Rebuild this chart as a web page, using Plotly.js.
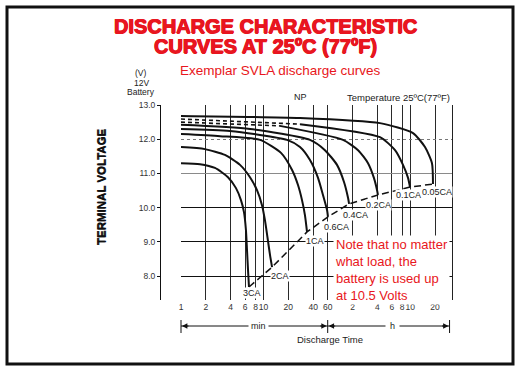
<!DOCTYPE html>
<html>
<head>
<meta charset="utf-8">
<script src="https://cdn.plot.ly/plotly-3.0.1.min.js"></script>
<style>html,body{margin:0;padding:0;background:#fff;}#chart{width:519px;height:372px;}</style>
</head>
<body>
<div id="chart"></div>
<script>
// ---------------- DATA ----------------
const minuteTicks = [1, 2, 4, 6, 8, 10, 20, 40, 60, 120, 240, 360, 480, 600, 1200];
const minuteTickText = ['1', '2', '4', '6', '8', '10', '20', '40', '60', '2', '4', '6', '8', '10', '20'];
const voltTicks = [8, 9, 10, 11, 12, 13];

const rateLabels = ['3CA', '2CA', '1CA', '0.6CA', '0.4CA', '0.2CA', '0.1CA', '0.05CA'];

const t_3CA = [1, 1.7, 2.58, 3.71, 4.64, 5.33, 5.8, 6.13, 6.31, 6.49, 6.67];
const v_3CA = [11.30, 11.27, 11.16, 10.89, 10.57, 10.22, 9.87, 9.34, 8.76, 8.18, 7.68];
const t_2CA = [1, 1.95, 3.41, 5.19, 6.86, 8.34, 9.57, 10.4, 11.3, 12.0, 12.7];
const v_2CA = [11.77, 11.71, 11.54, 11.25, 10.89, 10.51, 10.08, 9.64, 9.05, 8.61, 8.26];
const t_1CA = [1, 2.97, 9.07, 16.3, 22.2, 26.2, 29.3, 31.8, 33.7];
const v_1CA = [12.15, 12.09, 11.98, 11.60, 11.10, 10.66, 10.22, 9.78, 9.29];
const t_06CA = [1, 3.93, 19.3, 27.7, 36.6, 45.8, 52.6, 58.9, 60.5];
const v_06CA = [12.30, 12.24, 11.98, 11.77, 11.39, 10.87, 10.37, 9.93, 9.73];
const t_04CA = [1, 6.86, 36.6, 55.6, 77.8, 94.6, 106, 109];
const v_04CA = [12.42, 12.30, 11.98, 11.68, 11.25, 10.75, 10.28, 10.11];
const t_02CA = [1, 15.8, 92, 140, 185, 218, 238, 244];
const v_02CA = [12.50, 12.39, 11.98, 11.68, 11.30, 10.87, 10.51, 10.37];
const t_01CA = [1, 27.7, 258, 393, 491, 565, 597];
const v_01CA = [12.59, 12.44, 12.06, 11.68, 11.25, 10.87, 10.60];
const t_005CA = [1, 27.7, 258, 649, 907, 1102, 1134];
const v_005CA = [12.68, 12.62, 12.47, 12.18, 11.77, 11.30, 10.69];

// ---------------- STYLE / LAYOUT HELPERS ----------------
const curveT = [t_3CA, t_2CA, t_1CA, t_06CA, t_04CA, t_02CA, t_01CA, t_005CA];
const curveV = [v_3CA, v_2CA, v_1CA, v_06CA, v_04CA, v_02CA, v_01CA, v_005CA];
const dashedLead = {5: 2, 6: 2};
const labelOffsets = [[3, 6], [8, 9], [8, 9], [9, 10], [6, 11], [1, 10], [-2, 8], [4, 8]];

const W = 519, H = 372;
const px = x => x / W;
const py = y => 1 - y / H;
const RED = 'rgb(232,22,32)';
const FONT = 'Liberation Sans, Arial, Helvetica, sans-serif';
const HEAVY = '0.6px 0 0 ' + RED + ', -0.6px 0 0 ' + RED + ', 0 0.5px 0 ' + RED;

const xDomain = [px(181), px(452)];
const xRange = [0, 3.285];
const xPaper = t => xDomain[0] + (xDomain[1] - xDomain[0]) * (Math.log10(t) - xRange[0]) / (xRange[1] - xRange[0]);

const traces = [];
curveT.forEach((ts, i) => {
  const vs = curveV[i];
  const lead = dashedLead[i] || 0;
  if (lead > 0) {
    traces.push({x: ts.slice(0, lead), y: vs.slice(0, lead), type: 'scatter', mode: 'lines',
      line: {color: '#111', width: 1.6, dash: '4px,3px'}, hoverinfo: 'skip'});
  }
  const start = lead > 0 ? lead - 1 : 0;
  traces.push({x: ts.slice(start), y: vs.slice(start), type: 'scatter', mode: 'lines',
    line: {color: '#111', width: 2, shape: 'spline', smoothing: 0.6}, hoverinfo: 'skip'});
});
const endT = curveT.map(a => a[a.length - 1]);
const endV = curveV.map(a => a[a.length - 1]);
traces.push({x: endT, y: endV, type: 'scatter', mode: 'lines',
  line: {color: '#111', width: 1.5, dash: '7px,4px'}, hoverinfo: 'skip'});
['y2', 'y3', 'y4'].forEach(ya => traces.push({x: [], y: [], type: 'scatter', mode: 'lines', xaxis: 'x', yaxis: ya, hoverinfo: 'skip'}));

const annotations = [];
const shapes = [
  {type: 'rect', xref: 'paper', yref: 'paper', x0: px(7), x1: px(513), y0: py(364), y1: py(7), line: {color: '#111', width: 3}}
];
function txt(x, y, text, font, extra) {
  annotations.push(Object.assign({x: px(x), y: py(y), xref: 'paper', yref: 'paper', xanchor: 'center', yanchor: 'middle',
    text: text, showarrow: false, font: font}, extra || {}));
}
rateLabels.forEach((lab, i) => {
  annotations.push({x: Math.log10(endT[i]), y: endV[i], xref: 'x', yref: 'y', xanchor: 'center', yanchor: 'middle',
    text: lab, showarrow: false, xshift: labelOffsets[i][0], yshift: -labelOffsets[i][1], bgcolor: 'white', borderpad: 0,
    font: {family: FONT, size: 9, color: '#222'}});
});

const yArrow = py(326);
const spanEnds = [[1, 60], [60, 1800]];
spanEnds.forEach(([a, b]) => {
  shapes.push({type: 'line', xref: 'paper', yref: 'paper', x0: xPaper(a), x1: xPaper(b), y0: yArrow, y1: yArrow, line: {color: '#111', width: 1}});
  [[a, 9], [b, -9]].forEach(([t, off]) => {
    annotations.push({x: xPaper(t), y: yArrow, xref: 'paper', yref: 'paper', ax: off, ay: 0, axref: 'pixel', ayref: 'pixel',
      showarrow: true, arrowhead: 2, arrowsize: 0.9, arrowwidth: 1.2, arrowcolor: '#111', standoff: 1, text: ''});
  });
});
[1, 60, 1800].forEach(t => shapes.push({type: 'line', xref: 'paper', yref: 'paper', x0: xPaper(t), x1: xPaper(t),
  y0: py(320), y1: py(333), line: {color: '#111', width: 1}}));

txt(258, 326, 'min', {family: FONT, size: 9, color: '#222'}, {bgcolor: 'white', borderpad: 2});
txt(392, 326, 'h', {family: FONT, size: 9, color: '#222'}, {bgcolor: 'white', borderpad: 4});
txt(330, 339, 'Discharge Time', {family: FONT, size: 9.5, color: '#222'});
txt(265, 26, '<b>DISCHARGE CHARACTERISTIC</b>', {family: FONT, size: 20, color: RED, shadow: HEAVY});
txt(265, 46, '<b>CURVES AT 25ºC (77ºF)</b>', {family: FONT, size: 20, color: RED, shadow: HEAVY});
txt(280, 70, 'Exemplar SVLA discharge curves', {family: FONT, size: 13.5, color: RED});
txt(141, 73, '(V)', {family: FONT, size: 8.5, color: '#222'});
txt(141, 82.5, '12V', {family: FONT, size: 8.5, color: '#222'});
txt(141, 92, 'Battery', {family: FONT, size: 8.5, color: '#222'});
txt(300, 97, 'NP', {family: FONT, size: 9, color: '#222'});
txt(452, 97, 'Temperature 25ºC(77ºF)', {family: FONT, size: 9.5, color: '#222'}, {xanchor: 'right'});
txt(101, 187, '<b>TERMINAL VOLTAGE</b>', {family: 'Liberation Sans Narrow, Arial Narrow, Liberation Sans, sans-serif', size: 11.5, color: '#111',
  shadow: '0 0.5px 0 #111'}, {textangle: -90});
txt(333, 235, 'Note that no matter<br>what load, the<br>battery is used up<br>at 10.5 Volts', {family: FONT, size: 13, color: RED},
  {xanchor: 'left', yanchor: 'top', align: 'left', bgcolor: 'white', borderpad: 1});

const yDomain = [py(300), py(105)];
const layout = {
  width: W, height: H, margin: {l: 0, r: 0, t: 0, b: 0},
  paper_bgcolor: 'white', plot_bgcolor: 'white', showlegend: false, hovermode: false,
  font: {family: FONT, color: '#222'},
  xaxis: {type: 'log', domain: xDomain, range: xRange, anchor: 'y',
    tickmode: 'array', tickvals: minuteTicks, ticktext: minuteTickText, ticks: '', tickangle: 0,
    showgrid: true, gridcolor: '#2a2a2a', gridwidth: 1, showline: false, zeroline: false,
    tickfont: {family: FONT, size: 8.5, color: '#333'}},
  yaxis: {domain: yDomain, range: [7.3, 13.0], anchor: 'free', position: px(160), side: 'left',
    tickmode: 'array', tickvals: voltTicks, tickformat: '.1f', ticks: 'outside', ticklen: 3, tickcolor: '#111',
    showline: true, linecolor: '#111', linewidth: 1, showgrid: false, zeroline: false,
    tickfont: {family: FONT, size: 8.5, color: '#333'}},
  yaxis2: {overlaying: 'y', matches: 'y', anchor: 'x', side: 'right', tickmode: 'array', tickvals: [8, 9, 10, 13],
    showticklabels: false, ticks: '', showgrid: true, gridcolor: '#111', gridwidth: 1,
    showline: true, linecolor: '#222', linewidth: 1, zeroline: false},
  yaxis3: {overlaying: 'y', matches: 'y', anchor: 'x', tickmode: 'array', tickvals: [11],
    showticklabels: false, ticks: '', showgrid: true, gridcolor: '#8a8a8a', gridwidth: 1, showline: false, zeroline: false},
  yaxis4: {overlaying: 'y', matches: 'y', anchor: 'x', tickmode: 'array', tickvals: [12],
    showticklabels: false, ticks: '', showgrid: true, gridcolor: '#777', griddash: 'dot', gridwidth: 1, showline: false, zeroline: false},
  annotations: annotations,
  shapes: shapes
};

Plotly.newPlot('chart', traces, layout, {staticPlot: true, displayModeBar: false});
</script>
</body>
</html>
